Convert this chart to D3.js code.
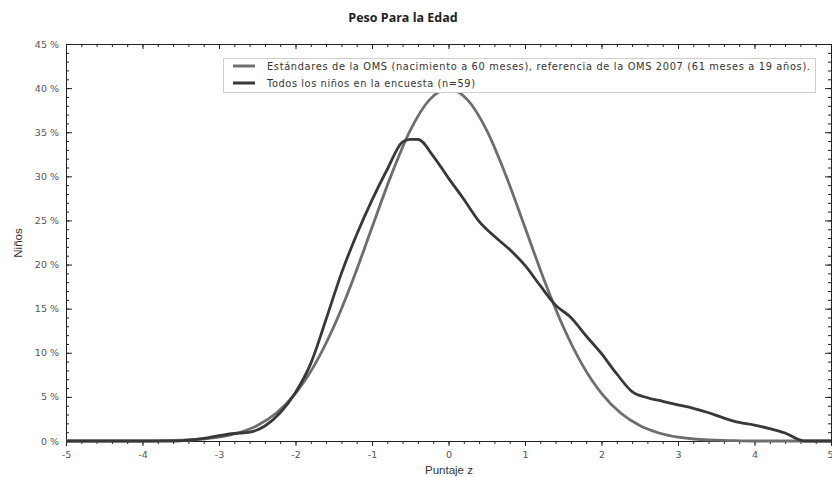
<!DOCTYPE html>
<html>
<head>
<meta charset="utf-8">
<script src="https://cdn.jsdelivr.net/npm/d3@7"></script>
<style>
  body { margin: 0; background: #fff; }
  svg { display: block; }
  .tick text { font-family: "DejaVu Sans", sans-serif; font-size: 9.5px; fill: #555; }
  .domain, .tick line { stroke: #222; }
</style>
</head>
<body>
<script>
// chart data
const zWho = [-5, -4.5, -4, -3.75, -3.5, -3.25, -3, -2.75, -2.5, -2.25, -2, -1.75, -1.5, -1.25, -1, -0.75, -0.5, -0.25, 0,
              0.25, 0.5, 0.75, 1, 1.25, 1.5, 1.75, 2, 2.25, 2.5, 2.75, 3, 3.25, 3.5, 3.75, 4, 4.5, 5];
const pctWho = [0, 0, 0, 0.04, 0.09, 0.2, 0.44, 0.91, 1.75, 3.17, 5.4, 8.63, 12.95, 18.26, 24.2, 30.11, 35.21, 38.67, 39.89,
                38.67, 35.21, 30.11, 24.2, 18.26, 12.95, 8.63, 5.4, 3.17, 1.75, 0.91, 0.44, 0.2, 0.09, 0.04, 0, 0, 0];

const zSurvey = [-5, -4, -3.6, -3.4, -3.2, -3, -2.8, -2.6, -2.4, -2.2, -2, -1.8, -1.6, -1.4, -1.2, -1, -0.8, -0.6, -0.5, -0.4,
                 -0.2, 0, 0.2, 0.4, 0.6, 0.8, 1, 1.2, 1.4, 1.6, 1.8, 2, 2.2, 2.4, 2.6, 2.8, 3, 3.2, 3.4, 3.6, 3.8, 4, 4.2, 4.4, 4.6, 4.65, 5];
const pctSurvey = [0, 0, 0, 0.1, 0.3, 0.6, 0.85, 1.0, 1.7, 3.2, 5.5, 8.8, 13.8, 19.0, 23.4, 27.3, 30.8, 33.9, 34.2, 34.2,
                   32.3, 29.8, 27.4, 24.9, 23.2, 21.7, 19.9, 17.6, 15.4, 14.0, 11.9, 9.9, 7.6, 5.6, 4.9, 4.5, 4.1, 3.7, 3.2, 2.6, 2.1, 1.8, 1.4, 0.9, 0.1, 0, 0];

const xTicks = [-5, -4, -3, -2, -1, 0, 1, 2, 3, 4, 5];
const yTicks = [0, 5, 10, 15, 20, 25, 30, 35, 40, 45];

const seriesNames = [
  "Estándares de la OMS (nacimiento a 60 meses), referencia de la OMS 2007 (61 meses a 19 años).",
  "Todos los niños en la encuesta (n=59)"
];
const seriesColors = ["#6e6e6e", "#383838"];
const legendWidths = [543, 208];

const width = 832, height = 477;
const plotLeft = 66, plotRight = 831, plotTop = 44, plotBottom = 441;

const svg = d3.select("body").append("svg")
  .attr("width", width)
  .attr("height", height);

const x = d3.scaleLinear().domain([-5, 5]).range([plotLeft, plotRight]);
const y = d3.scaleLinear().domain([0, 45]).range([plotBottom, plotTop]);

const minorX = d3.range(-5, 5.001, 0.2);
const minorY = d3.range(0, 45.001, 1);

// title
svg.append("text")
  .attr("x", 403).attr("y", 22)
  .attr("text-anchor", "middle")
  .style("font-family", "'Open Sans', sans-serif")
  .style("font-weight", "bold")
  .style("font-size", "12.5px")
  .style("fill", "#222")
  .text("Peso Para la Edad");

// axes: minor ticks first
svg.append("g").attr("transform", `translate(0,${plotBottom})`)
  .call(d3.axisBottom(x).tickValues(minorX).tickSize(3).tickFormat(""))
  .select(".domain").remove();
svg.append("g").attr("transform", `translate(0,${plotTop})`)
  .call(d3.axisTop(x).tickValues(minorX).tickSize(-3).tickFormat(""))
  .select(".domain").remove();
svg.append("g").attr("transform", `translate(${plotLeft},0)`)
  .call(d3.axisLeft(y).tickValues(minorY).tickSize(-3).tickFormat(""))
  .select(".domain").remove();
svg.append("g").attr("transform", `translate(${plotRight},0)`)
  .call(d3.axisRight(y).tickValues(minorY).tickSize(-3).tickFormat(""))
  .select(".domain").remove();

// major ticks
const xAxis = svg.append("g").attr("transform", `translate(0,${plotBottom})`)
  .call(d3.axisBottom(x).tickValues(xTicks).tickSize(5).tickSizeOuter(0).tickPadding(5).tickFormat(d => String(d)));
// keep the last label inside the window
xAxis.selectAll(".tick text").filter(d => d === 5).attr("text-anchor", "end").attr("dx", 2);

svg.append("g").attr("transform", `translate(0,${plotTop})`)
  .call(d3.axisTop(x).tickValues(xTicks).tickSize(-5).tickSizeOuter(0).tickFormat(""));
svg.append("g").attr("transform", `translate(${plotLeft},0)`)
  .call(d3.axisLeft(y).tickValues(yTicks).tickSize(-6).tickSizeOuter(0).tickPadding(7).tickFormat(d => d + " %"));
svg.append("g").attr("transform", `translate(${plotRight},0)`)
  .call(d3.axisRight(y).tickValues(yTicks).tickSize(-6).tickSizeOuter(0).tickFormat(""));

// axis titles
svg.append("text")
  .attr("x", 449).attr("y", 474)
  .attr("text-anchor", "middle")
  .style("font-family", "'Liberation Sans', Arial, sans-serif")
  .style("font-size", "11.5px")
  .style("fill", "#333")
  .text("Puntaje z");

svg.append("text")
  .attr("transform", "translate(22,243) rotate(-90)")
  .attr("text-anchor", "middle")
  .style("font-family", "'Liberation Sans', Arial, sans-serif")
  .style("font-size", "11.5px")
  .style("fill", "#333")
  .text("Niños");

// curves
const line = d3.line()
  .x(d => x(d[0]))
  .y(d => y(d[1]))
  .curve(d3.curveMonotoneX);

const whoData = zWho.map((z, i) => [z, pctWho[i]]);
const surveyData = zSurvey.map((z, i) => [z, pctSurvey[i]]);

svg.append("path")
  .datum(whoData)
  .attr("fill", "none")
  .attr("stroke", seriesColors[0])
  .attr("stroke-width", 2.8)
  .attr("d", line);

svg.append("path")
  .datum(surveyData)
  .attr("fill", "none")
  .attr("stroke", seriesColors[1])
  .attr("stroke-width", 2.8)
  .attr("stroke-linejoin", "round")
  .attr("d", line);

// legend
const legend = svg.append("g").attr("id", "legend");
legend.append("rect")
  .attr("x", 223.5).attr("y", 58.5)
  .attr("width", 592).attr("height", 34)
  .attr("fill", "#fff")
  .attr("stroke", "#cfcfcf");

seriesNames.forEach((name, i) => {
  const ly = 66 + i * 17;
  legend.append("line")
    .attr("x1", 233).attr("x2", 255)
    .attr("y1", ly).attr("y2", ly)
    .attr("stroke", seriesColors[i])
    .attr("stroke-width", 3);
  legend.append("text")
    .attr("x", 267).attr("y", ly + 3.5)
    .attr("textLength", legendWidths[i])
    .attr("lengthAdjust", "spacing")
    .style("font-family", "'DejaVu Sans', sans-serif")
    .style("font-size", "9.8px")
    .style("fill", "#333")
    .text(name);
});
</script>
</body>
</html>
